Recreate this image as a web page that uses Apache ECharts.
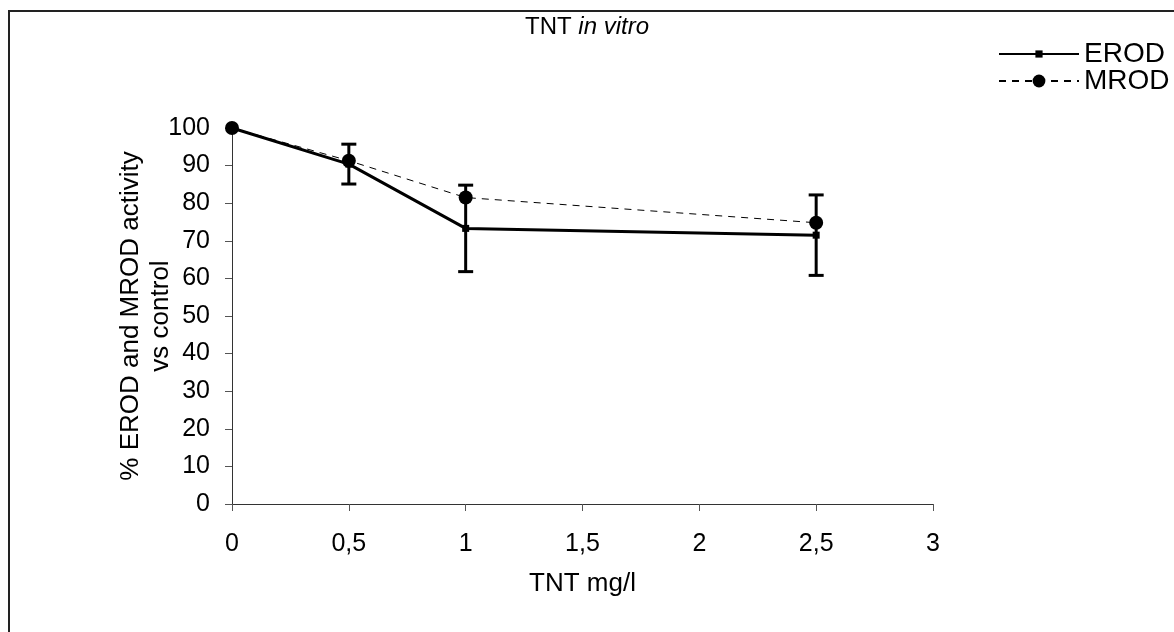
<!DOCTYPE html>
<html>
<head>
<meta charset="utf-8">
<script src="https://cdn.jsdelivr.net/npm/echarts@6/dist/echarts.min.js"></script>
<style>
  html, body { margin: 0; padding: 0; background: #fff; }
  #chart { width: 1174px; height: 632px; }
</style>
</head>
<body>
<div id="chart"></div>
<script>
// TNT concentration (mg/l)
const doses = [0, 0.5, 1, 2.5]
const erod = [100, 90.4, 73.3, 71.5]
const erodErr = [0, 5.3, 11.5, 10.7]
const mrod = [100, 91.3, 81.5, 74.8]
const xTicks = [0, 0.5, 1, 1.5, 2, 2.5, 3]

const font = 'Liberation Sans, Arial, sans-serif'

const chart = echarts.init(document.getElementById('chart'))

const errData = doses
  .map((d, i) => [d, erod[i] - erodErr[i], erod[i] + erodErr[i]])
  .filter((r, i) => erodErr[i] > 0)

const legendText = { fontFamily: font, fontSize: 28, color: '#000' }

chart.setOption({
  animation: false,
  backgroundColor: '#fff',
  textStyle: { fontFamily: font, color: '#000' },
  title: {
    text: 'TNT {i|in vitro}',
    left: 582,
    top: 10,
    textAlign: 'center',
    textStyle: {
      fontFamily: font,
      fontSize: 24,
      fontWeight: 'normal',
      color: '#000',
      rich: {
        i: { fontFamily: font, fontSize: 24, fontStyle: 'italic', color: '#000' }
      }
    }
  },
  // two legends so each symbol keeps its own size
  legend: [
    {
      left: 993, top: 35,
      itemWidth: 80, itemHeight: 9,
      data: ['EROD'],
      textStyle: legendText
    },
    {
      left: 993, top: 62,
      itemWidth: 80, itemHeight: 16,
      data: ['MROD'],
      textStyle: legendText
    }
  ],
  grid: { left: 232, right: 241, top: 128, bottom: 128 },
  xAxis: {
    type: 'value',
    min: 0,
    max: 3,
    interval: 0.5,
    name: 'TNT mg/l',
    nameLocation: 'middle',
    nameGap: 67,
    nameTextStyle: { fontFamily: font, fontSize: 26, color: '#000' },
    axisLine: { lineStyle: { color: '#333', width: 1 } },
    axisTick: { length: 7, lineStyle: { color: '#555' } },
    splitLine: { show: false },
    axisLabel: {
      margin: 28,
      fontFamily: font,
      fontSize: 25,
      color: '#000',
      formatter: v => String(xTicks.find(t => Math.abs(t - v) < 1e-9) ?? v).replace('.', ',')
    }
  },
  yAxis: {
    type: 'value',
    min: 0,
    max: 100,
    interval: 10,
    name: '% EROD and MROD activity\nvs control',
    nameLocation: 'middle',
    nameGap: 56,
    nameMoveOverlap: false,
    nameTextStyle: { fontFamily: font, fontSize: 26, color: '#000', lineHeight: 30 },
    axisLine: { show: true, lineStyle: { color: '#333', width: 1 } },
    axisTick: { show: true, length: 7, lineStyle: { color: '#555' } },
    splitLine: { show: false },
    axisLabel: { margin: 22, fontFamily: font, fontSize: 25, color: '#000' }
  },
  graphic: [{
    type: 'rect',
    silent: true,
    shape: { x: 9, y: 11, width: 1400, height: 800 },
    style: { fill: 'none', stroke: '#222', lineWidth: 2 }
  }],
  series: [
    {
      name: 'EROD',
      type: 'line',
      data: doses.map((d, i) => [d, erod[i]]),
      symbol: 'rect',
      symbolSize: 7,
      lineStyle: { color: '#000', width: 3 },
      itemStyle: { color: '#000' },
      z: 3
    },
    {
      name: 'MROD',
      type: 'line',
      data: doses.map((d, i) => [d, mrod[i]]),
      symbol: 'circle',
      symbolSize: 14,
      lineStyle: { color: '#000', width: 1, type: [7, 6] },
      itemStyle: { color: '#000' },
      z: 4
    },
    {
      name: 'err',
      type: 'custom',
      data: errData,
      z: 2,
      renderItem: (params, api) => {
        const x = api.value(0)
        const lo = api.coord([x, api.value(1)])
        const hi = api.coord([x, api.value(2)])
        const cap = 7.5
        const style = { stroke: '#000', lineWidth: 3 }
        return {
          type: 'group',
          children: [
            { type: 'line', shape: { x1: lo[0], y1: lo[1], x2: hi[0], y2: hi[1] }, style },
            { type: 'line', shape: { x1: lo[0] - cap, y1: lo[1], x2: lo[0] + cap, y2: lo[1] }, style },
            { type: 'line', shape: { x1: hi[0] - cap, y1: hi[1], x2: hi[0] + cap, y2: hi[1] }, style }
          ]
        }
      }
    }
  ]
})
</script>
</body>
</html>
